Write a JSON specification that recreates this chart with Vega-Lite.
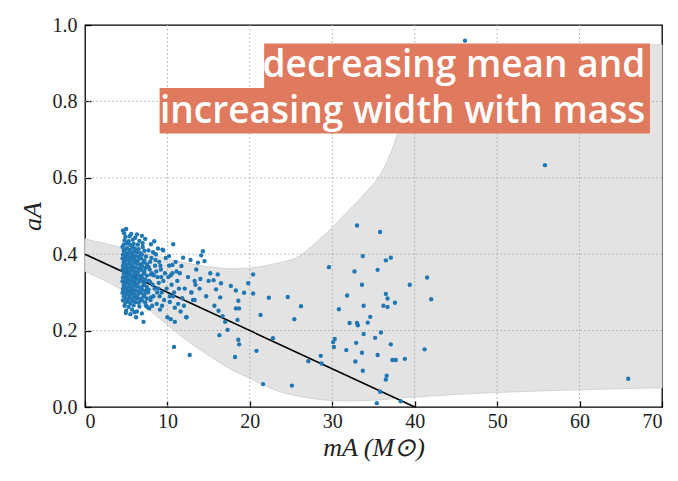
{
  "$schema": "https://vega.github.io/schema/vega-lite/v6.json",
  "width": 577,
  "height": 382,
  "autosize": {"type": "none"},
  "padding": {"left": 85, "top": 25, "right": 16, "bottom": 74},
  "background": "white",
  "config": {
    "view": {"stroke": "#000000", "strokeWidth": 1.3},
    "axis": {
      "labelFont": "Liberation Serif", "labelFontSize": 20, "labelColor": "#222222",
      "titleFont": "Liberation Serif", "titleFontSize": 26, "titleFontWeight": "normal", "titleFontStyle": "italic", "titleColor": "#222222",
      "grid": false, "domain": false, "ticks": true, "tickColor": "#000000", "tickWidth": 1.3
    }
  },
  "datasets": {
    "band": [
      {"m": 0, "lo": 0.355, "hi": 0.44},
      {"m": 2, "lo": 0.335, "hi": 0.43},
      {"m": 5, "lo": 0.3, "hi": 0.415},
      {"m": 8, "lo": 0.25, "hi": 0.398},
      {"m": 10, "lo": 0.215, "hi": 0.388},
      {"m": 12, "lo": 0.18, "hi": 0.378},
      {"m": 15, "lo": 0.135, "hi": 0.367},
      {"m": 18, "lo": 0.095, "hi": 0.362},
      {"m": 20, "lo": 0.075, "hi": 0.364},
      {"m": 23, "lo": 0.045, "hi": 0.375},
      {"m": 26, "lo": 0.028, "hi": 0.395},
      {"m": 28, "lo": 0.021, "hi": 0.43},
      {"m": 30, "lo": 0.017, "hi": 0.47},
      {"m": 32, "lo": 0.016, "hi": 0.515},
      {"m": 34, "lo": 0.017, "hi": 0.56},
      {"m": 36, "lo": 0.019, "hi": 0.615},
      {"m": 37, "lo": 0.021, "hi": 0.66},
      {"m": 38, "lo": 0.023, "hi": 0.72},
      {"m": 39, "lo": 0.025, "hi": 0.79},
      {"m": 40, "lo": 0.026, "hi": 0.84},
      {"m": 41, "lo": 0.027, "hi": 0.885},
      {"m": 42, "lo": 0.029, "hi": 0.92},
      {"m": 43, "lo": 0.03, "hi": 0.938},
      {"m": 45, "lo": 0.033, "hi": 0.946},
      {"m": 50, "lo": 0.038, "hi": 0.947},
      {"m": 55, "lo": 0.042, "hi": 0.947},
      {"m": 60, "lo": 0.045, "hi": 0.948},
      {"m": 65, "lo": 0.048, "hi": 0.948},
      {"m": 70, "lo": 0.05, "hi": 0.948}
    ],
    "gridx": [{"g": 10}, {"g": 20}, {"g": 30}, {"g": 40}, {"g": 50}, {"g": 60}],
    "gridy": [{"g": 0.2}, {"g": 0.4}, {"g": 0.6}, {"g": 0.8}],
    "fit": [{"m": 0, "a": 0.4}, {"m": 40, "a": 0.0}],
    "box": [
      {"x1": 21.73, "x2": 68.54, "y1": 0.8351, "y2": 0.9516},
      {"x1": 9.05, "x2": 68.54, "y1": 0.716, "y2": 0.8351}
    ],
    "label": [
      {"t": "decreasing mean and", "x": 67.96, "y": 0.8639},
      {"t": "increasing width with mass", "x": 67.96, "y": 0.7445}
    ],
    "pts": [
      {"m":4.6,"a":0.279},{"m":4.9,"a":0.272},{"m":5.2,"a":0.276},{"m":5.5,"a":0.271},{"m":5.8,"a":0.278},{"m":6.1,"a":0.275},{"m":6.5,"a":0.273},{"m":6.9,"a":0.279},{"m":7.3,"a":0.274},
      {"m":4.7,"a":0.289},{"m":5.0,"a":0.282},{"m":5.35,"a":0.286},{"m":5.65,"a":0.281},{"m":5.95,"a":0.288},{"m":6.3,"a":0.285},{"m":6.7,"a":0.283},{"m":7.1,"a":0.289},{"m":7.5,"a":0.284},{"m":8.0,"a":0.287},
      {"m":4.55,"a":0.299},{"m":4.85,"a":0.292},{"m":5.1,"a":0.296},{"m":5.45,"a":0.291},{"m":5.75,"a":0.298},{"m":6.05,"a":0.295},{"m":6.4,"a":0.293},{"m":6.8,"a":0.299},{"m":7.2,"a":0.294},
      {"m":4.6,"a":0.309},{"m":4.9,"a":0.302},{"m":5.2,"a":0.306},{"m":5.5,"a":0.301},{"m":5.8,"a":0.308},{"m":6.1,"a":0.305},{"m":6.5,"a":0.303},{"m":6.9,"a":0.309},{"m":7.3,"a":0.304},{"m":7.7,"a":0.307},
      {"m":4.7,"a":0.319},{"m":5.0,"a":0.312},{"m":5.35,"a":0.316},{"m":5.65,"a":0.311},{"m":5.95,"a":0.318},{"m":6.3,"a":0.315},{"m":6.7,"a":0.313},{"m":7.1,"a":0.319},{"m":7.5,"a":0.314},
      {"m":4.55,"a":0.329},{"m":4.85,"a":0.322},{"m":5.1,"a":0.326},{"m":5.45,"a":0.321},{"m":5.75,"a":0.328},{"m":6.05,"a":0.325},{"m":6.4,"a":0.323},{"m":6.8,"a":0.329},{"m":7.2,"a":0.324},{"m":7.9,"a":0.327},
      {"m":4.6,"a":0.339},{"m":4.9,"a":0.332},{"m":5.2,"a":0.336},{"m":5.5,"a":0.331},{"m":5.8,"a":0.338},{"m":6.1,"a":0.335},{"m":6.5,"a":0.333},{"m":6.9,"a":0.339},{"m":7.3,"a":0.334},
      {"m":4.7,"a":0.349},{"m":5.0,"a":0.342},{"m":5.35,"a":0.346},{"m":5.65,"a":0.341},{"m":5.95,"a":0.348},{"m":6.3,"a":0.345},{"m":6.7,"a":0.343},{"m":7.1,"a":0.349},{"m":7.5,"a":0.344},{"m":8.0,"a":0.347},
      {"m":4.55,"a":0.359},{"m":4.85,"a":0.352},{"m":5.1,"a":0.356},{"m":5.45,"a":0.351},{"m":5.75,"a":0.358},{"m":6.05,"a":0.355},{"m":6.4,"a":0.353},{"m":6.8,"a":0.359},{"m":7.2,"a":0.354},
      {"m":4.6,"a":0.369},{"m":4.9,"a":0.362},{"m":5.2,"a":0.366},{"m":5.5,"a":0.361},{"m":5.8,"a":0.368},{"m":6.1,"a":0.365},{"m":6.5,"a":0.363},{"m":6.9,"a":0.369},{"m":7.3,"a":0.364},{"m":7.7,"a":0.367},
      {"m":4.7,"a":0.379},{"m":5.0,"a":0.372},{"m":5.35,"a":0.376},{"m":5.65,"a":0.371},{"m":5.95,"a":0.378},{"m":6.3,"a":0.375},{"m":6.7,"a":0.373},{"m":7.1,"a":0.379},{"m":7.5,"a":0.374},
      {"m":4.55,"a":0.389},{"m":4.85,"a":0.382},{"m":5.1,"a":0.386},{"m":5.45,"a":0.381},{"m":5.75,"a":0.388},{"m":6.05,"a":0.385},{"m":6.4,"a":0.383},{"m":6.8,"a":0.389},{"m":7.2,"a":0.384},
      {"m":4.6,"a":0.399},{"m":4.9,"a":0.392},{"m":5.2,"a":0.396},{"m":5.5,"a":0.391},{"m":5.8,"a":0.398},{"m":6.1,"a":0.395},{"m":6.5,"a":0.393},{"m":6.9,"a":0.399},{"m":7.4,"a":0.394},
      {"m":4.7,"a":0.409},{"m":5.0,"a":0.402},{"m":5.35,"a":0.406},{"m":5.65,"a":0.401},{"m":5.95,"a":0.408},{"m":6.3,"a":0.405},{"m":6.7,"a":0.403},{"m":7.2,"a":0.409},
      {"m":4.55,"a":0.419},{"m":4.85,"a":0.412},{"m":5.1,"a":0.416},{"m":5.45,"a":0.411},{"m":5.75,"a":0.418},{"m":6.05,"a":0.415},{"m":6.5,"a":0.413},{"m":7.0,"a":0.419},
      {"m":4.7,"a":0.425},{"m":5.1,"a":0.428},{"m":5.5,"a":0.424},{"m":5.9,"a":0.427},{"m":6.4,"a":0.425},{"m":7.0,"a":0.429},{"m":4.8,"a":0.436},{"m":5.3,"a":0.434},{"m":5.8,"a":0.438},{"m":6.6,"a":0.435},
      {"m":4.9,"a":0.445},{"m":5.4,"a":0.447},{"m":6.1,"a":0.443},{"m":4.75,"a":0.455},{"m":5.6,"a":0.453},{"m":4.6,"a":0.462},{"m":5.0,"a":0.466},{"m":6.3,"a":0.452},{"m":7.3,"a":0.44},{"m":6.9,"a":0.448},
      {"m":4.8,"a":0.265},{"m":5.3,"a":0.262},{"m":5.9,"a":0.266},{"m":6.6,"a":0.263},{"m":7.4,"a":0.265},{"m":5.0,"a":0.252},{"m":5.7,"a":0.255},{"m":6.3,"a":0.25},{"m":7.8,"a":0.258},{"m":5.5,"a":0.243},
      {"m":6.9,"a":0.245},{"m":6.2,"a":0.235},{"m":7.1,"a":0.223},{"m":7.6,"a":0.261},{"m":6.0,"a":0.248},{"m":4.95,"a":0.246},
      {"m":7.7,"a":0.41},{"m":7.9,"a":0.38},{"m":8.0,"a":0.426},{"m":8.1,"a":0.35},{"m":8.2,"a":0.32},{"m":8.3,"a":0.29},{"m":8.4,"a":0.434},{"m":8.5,"a":0.37},{"m":8.6,"a":0.4},{"m":8.7,"a":0.27},
      {"m":8.8,"a":0.34},{"m":8.9,"a":0.31},{"m":9.0,"a":0.38},{"m":9.1,"a":0.255},{"m":9.2,"a":0.36},{"m":9.3,"a":0.3},{"m":9.4,"a":0.412},{"m":9.5,"a":0.33},{"m":9.6,"a":0.28},{"m":9.7,"a":0.35},
      {"m":9.8,"a":0.39},{"m":9.9,"a":0.31},{"m":10.0,"a":0.235},{"m":10.1,"a":0.34},{"m":10.2,"a":0.37},{"m":10.3,"a":0.29},{"m":10.4,"a":0.23},{"m":10.5,"a":0.32},{"m":10.6,"a":0.35},{"m":10.8,"a":0.3},
      {"m":10.9,"a":0.223},{"m":11.0,"a":0.38},{"m":11.2,"a":0.33},{"m":11.3,"a":0.27},{"m":11.5,"a":0.35},{"m":11.7,"a":0.369},{"m":11.9,"a":0.391},{"m":12.1,"a":0.31},{"m":12.3,"a":0.235},{"m":12.5,"a":0.34},
      {"m":12.8,"a":0.385},{"m":12.9,"a":0.3},{"m":13.1,"a":0.28},{"m":13.3,"a":0.33},{"m":13.5,"a":0.36},{"m":13.7,"a":0.378},{"m":13.9,"a":0.31},{"m":14.1,"a":0.397},{"m":14.3,"a":0.408},{"m":14.5,"a":0.382},
      {"m":14.7,"a":0.29},{"m":15.0,"a":0.33},
      {"m":7.65,"a":0.3},{"m":7.75,"a":0.33},{"m":7.85,"a":0.36},{"m":7.95,"a":0.28},{"m":8.05,"a":0.39},{"m":8.15,"a":0.265},{"m":8.25,"a":0.405},{"m":8.35,"a":0.345},{"m":8.45,"a":0.31},{"m":8.55,"a":0.385},
      {"m":8.65,"a":0.355},{"m":8.75,"a":0.3},{"m":8.85,"a":0.415},{"m":8.95,"a":0.325},{"m":9.05,"a":0.29},{"m":9.15,"a":0.37},{"m":9.25,"a":0.34},{"m":9.35,"a":0.265},
      {"m":9.5,"a":0.41},{"m":10.2,"a":0.395},{"m":10.6,"a":0.372},{"m":11.1,"a":0.355},{"m":10.4,"a":0.345},{"m":11.4,"a":0.31},{"m":10.7,"a":0.29},{"m":11.8,"a":0.285},{"m":12.0,"a":0.265},{"m":10.9,"a":0.26},
      {"m":11.6,"a":0.25},{"m":10.3,"a":0.275},{"m":10.7,"a":0.426},
      {"m":15.2,"a":0.35},{"m":16.1,"a":0.347},{"m":15.6,"a":0.332},{"m":16.5,"a":0.324},{"m":15.9,"a":0.308},{"m":17.7,"a":0.317},{"m":18.3,"a":0.305},{"m":19.3,"a":0.299},{"m":19.8,"a":0.324},{"m":20.4,"a":0.347},
      {"m":20.4,"a":0.297},{"m":18.6,"a":0.278},{"m":18.3,"a":0.258},{"m":18.7,"a":0.258},{"m":16.4,"a":0.287},{"m":15.7,"a":0.265},{"m":16.2,"a":0.252},{"m":16.7,"a":0.238},{"m":17.0,"a":0.223},{"m":17.3,"a":0.202},
      {"m":16.3,"a":0.188},{"m":18.5,"a":0.228},{"m":18.6,"a":0.176},{"m":18.7,"a":0.164},{"m":18.2,"a":0.131},{"m":21.3,"a":0.241},{"m":22.3,"a":0.286},{"m":24.6,"a":0.288},{"m":25.4,"a":0.23},{"m":22.8,"a":0.18},
      {"m":20.8,"a":0.147},{"m":21.6,"a":0.06},{"m":25.1,"a":0.056},{"m":10.8,"a":0.157},{"m":12.7,"a":0.136},{"m":13.4,"a":0.32},{"m":14.0,"a":0.335},{"m":12.9,"a":0.3},{"m":13.3,"a":0.28},{"m":12.3,"a":0.235},
      {"m":33.0,"a":0.475},{"m":35.8,"a":0.458},{"m":33.7,"a":0.395},{"m":36.5,"a":0.384},{"m":37.1,"a":0.391},{"m":29.6,"a":0.366},{"m":32.7,"a":0.355},{"m":35.5,"a":0.359},{"m":41.5,"a":0.339},{"m":39.4,"a":0.32},
      {"m":33.6,"a":0.32},{"m":31.8,"a":0.292},{"m":36.5,"a":0.296},{"m":36.7,"a":0.284},{"m":42.0,"a":0.282},{"m":37.6,"a":0.273},{"m":26.2,"a":0.264},{"m":33.8,"a":0.265},{"m":36.2,"a":0.265},{"m":36.7,"a":0.262},
      {"m":30.8,"a":0.256},{"m":34.6,"a":0.236},{"m":32.1,"a":0.22},{"m":33.0,"a":0.22},{"m":33.1,"a":0.214},{"m":34.3,"a":0.221},{"m":33.8,"a":0.191},{"m":35.9,"a":0.195},{"m":35.2,"a":0.181},{"m":30.3,"a":0.178},
      {"m":30.1,"a":0.17},{"m":30.2,"a":0.157},{"m":32.9,"a":0.168},{"m":37.1,"a":0.164},{"m":41.2,"a":0.151},{"m":31.7,"a":0.149},{"m":33.6,"a":0.142},{"m":35.5,"a":0.136},{"m":27.1,"a":0.12},{"m":28.6,"a":0.134},
      {"m":28.7,"a":0.114},{"m":32.8,"a":0.119},{"m":37.3,"a":0.123},{"m":37.7,"a":0.123},{"m":38.8,"a":0.126},{"m":33.7,"a":0.095},{"m":36.6,"a":0.082},{"m":36.5,"a":0.072},{"m":35.8,"a":0.04},{"m":35.4,"a":0.01},
      {"m":38.3,"a":0.015},{"m":46.1,"a":0.959},{"m":55.8,"a":0.633},{"m":65.9,"a":0.074}
    ]
  },
  "layer": [
    {
      "data": {"name": "band"},
      "mark": {"type": "area", "interpolate": "monotone", "color": "#e3e3e3", "stroke": "#d4d4d4", "strokeWidth": 1},
      "encoding": {
        "x": {"field": "m", "type": "quantitative", "scale": {"domain": [0, 70], "nice": false},
              "axis": {"values": [0, 10, 20, 30, 40, 50, 60, 70], "tickSize": -6, "labelPadding": 10, "title": "mA (M⊙)", "titlePadding": 3}},
        "y": {"field": "lo", "type": "quantitative", "scale": {"domain": [0, 1], "nice": false},
              "axis": {"values": [0, 0.2, 0.4, 0.6, 0.8, 1.0], "format": ".1f", "tickSize": -6, "labelPadding": 14, "title": "aA", "titlePadding": 7}},
        "y2": {"field": "hi"}
      }
    },
    {
      "data": {"name": "gridx"},
      "mark": {"type": "rule", "color": "#a8a8a8", "strokeWidth": 1, "strokeDash": [1.5, 2.5]},
      "encoding": {"x": {"field": "g", "type": "quantitative"}}
    },
    {
      "data": {"name": "gridy"},
      "mark": {"type": "rule", "color": "#a8a8a8", "strokeWidth": 1, "strokeDash": [1.5, 2.5]},
      "encoding": {"y": {"field": "g", "type": "quantitative"}}
    },
    {
      "data": {"name": "fit"},
      "mark": {"type": "line", "color": "#000000", "strokeWidth": 1.6},
      "encoding": {"x": {"field": "m", "type": "quantitative"}, "y": {"field": "a", "type": "quantitative"}}
    },
    {
      "data": {"name": "pts"},
      "mark": {"type": "circle", "color": "#1f77b4", "opacity": 1, "size": 19},
      "encoding": {"x": {"field": "m", "type": "quantitative"}, "y": {"field": "a", "type": "quantitative"}}
    },
    {
      "data": {"name": "box"},
      "mark": {"type": "rect", "color": "#e07a5f", "opacity": 1},
      "encoding": {
        "x": {"field": "x1", "type": "quantitative"}, "x2": {"field": "x2"},
        "y": {"field": "y1", "type": "quantitative"}, "y2": {"field": "y2"}
      }
    },
    {
      "data": {"name": "label"},
      "mark": {"type": "text", "font": "Open Sans", "fontSize": 37, "fontWeight": 600, "color": "#ffffff", "align": "right", "baseline": "alphabetic"},
      "encoding": {
        "x": {"field": "x", "type": "quantitative"},
        "y": {"field": "y", "type": "quantitative"},
        "text": {"field": "t"}
      }
    }
  ]
}
